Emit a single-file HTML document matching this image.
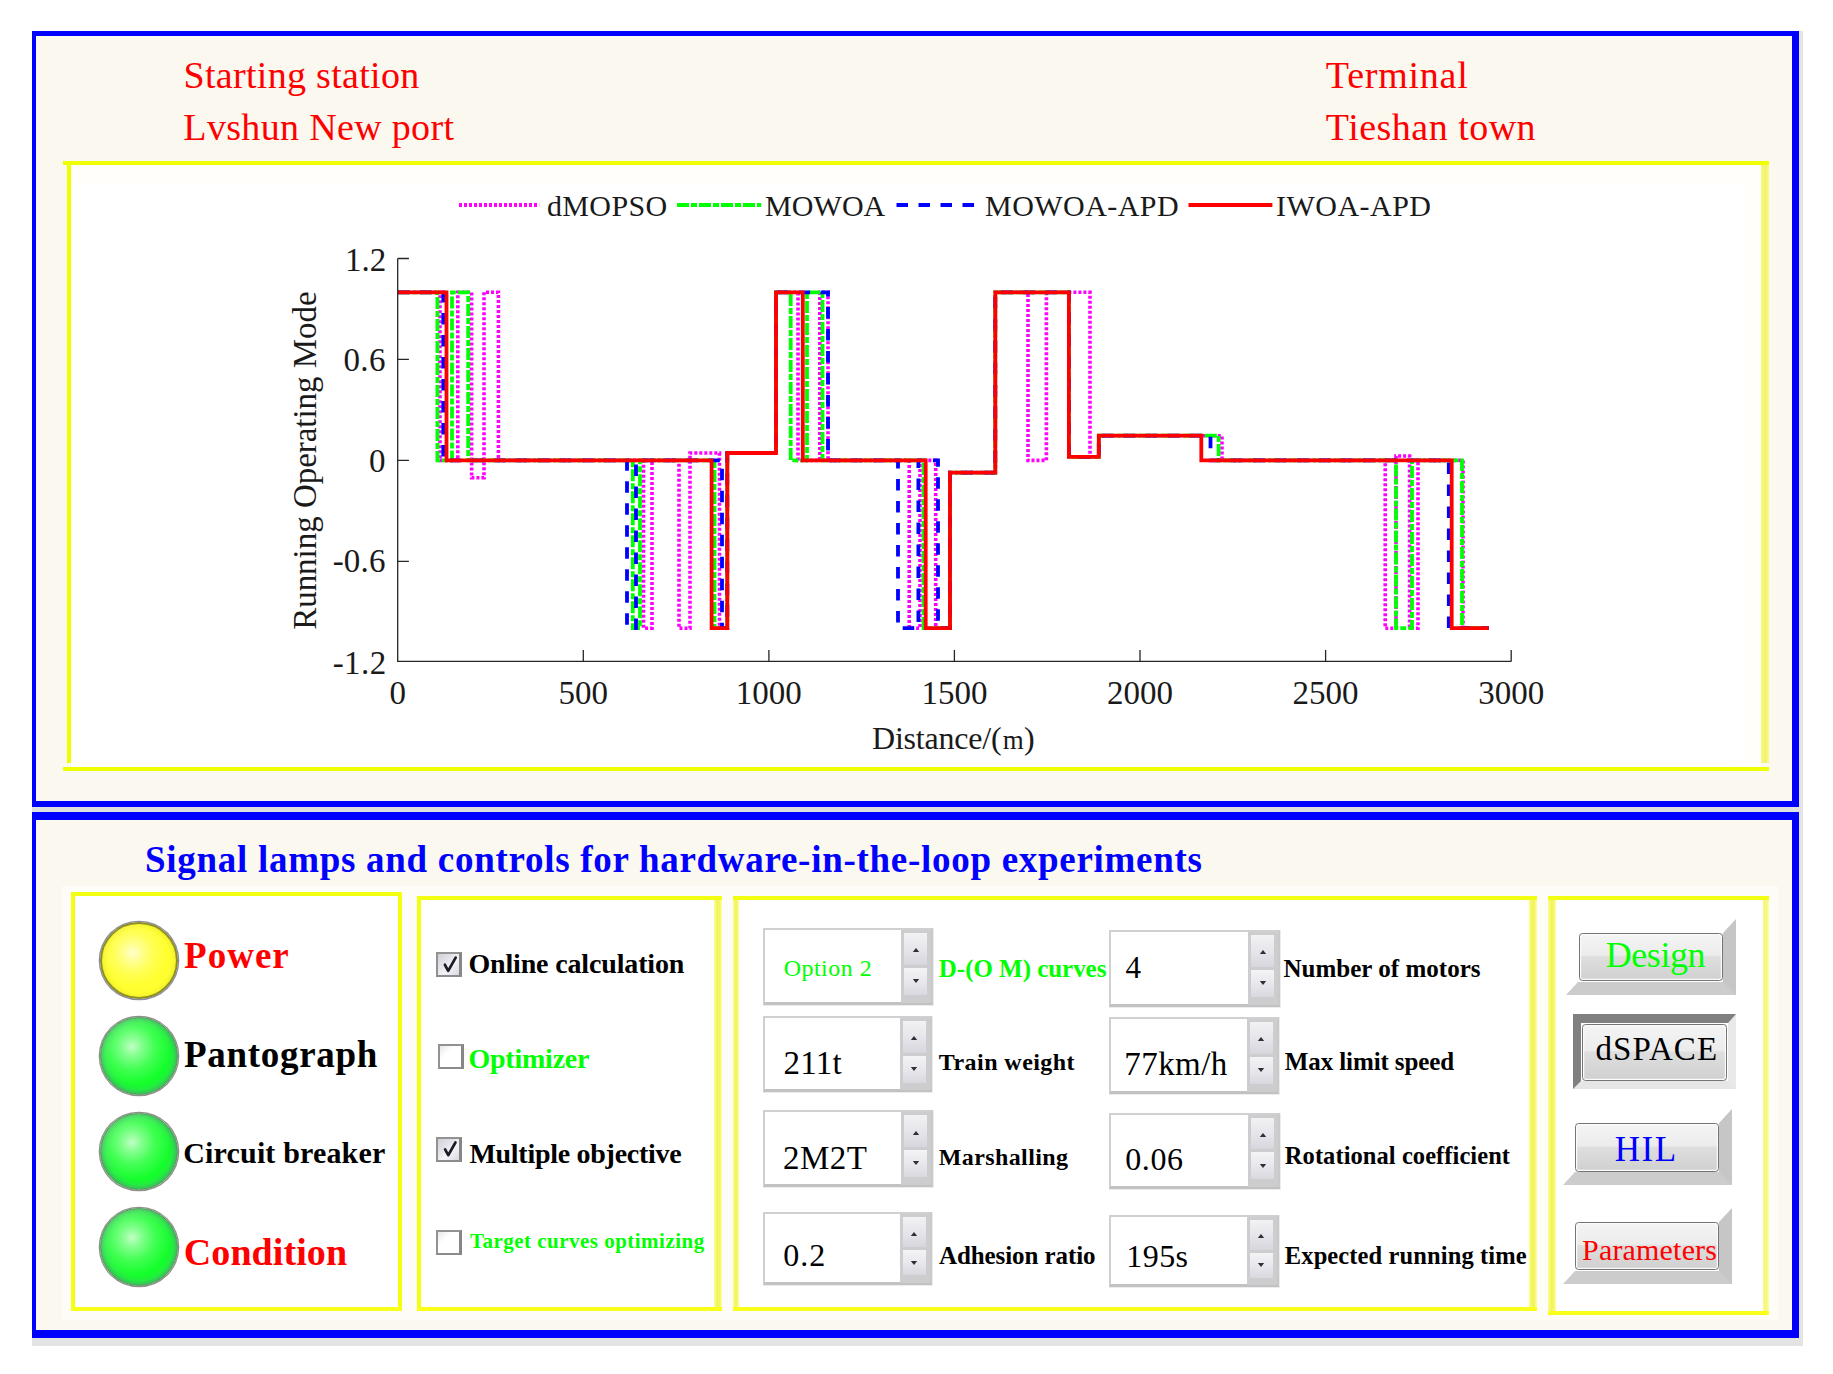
<!DOCTYPE html>
<html><head><meta charset="utf-8"><title>HIL panel</title>
<style>
html,body{margin:0;padding:0;background:#fff;}
body{width:1833px;height:1374px;position:relative;overflow:hidden;font-family:"Liberation Serif", serif;}
body>div,body>span,body>svg{position:absolute;display:block;}
.t{white-space:pre;}
</style></head><body>
<div style="left:1799px;top:31px;width:4px;height:1315px;background:#e4e4e4;"></div>
<div style="left:32px;top:1338px;width:1771px;height:8px;background:#e3e3e3;"></div>
<div style="left:32px;top:807px;width:1767px;height:5px;background:#dfe2df;"></div>
<div style="left:32px;top:31px;width:1767px;height:776px;background:#0000ff"></div>
<div style="left:36px;top:36px;width:1756px;height:765px;background:#fbf8f0;"></div>
<div style="left:32px;top:812px;width:1767px;height:526px;background:#0000ff"></div>
<div style="left:36px;top:820px;width:1756px;height:510px;background:#fbf8f0;"></div>
<span class="t" style="left:183.53px;top:56.17px;font-size:38px;line-height:38px;color:#ff0000;letter-spacing:0.307px;">Starting station</span>
<span class="t" style="left:183.36px;top:107.77px;font-size:38px;line-height:38px;color:#ff0000;letter-spacing:0.330px;">Lvshun New port</span>
<span class="t" style="left:1325.84px;top:56.17px;font-size:38px;line-height:38px;color:#ff0000;letter-spacing:0.759px;">Terminal</span>
<span class="t" style="left:1325.84px;top:107.77px;font-size:38px;line-height:38px;color:#ff0000;letter-spacing:0.481px;">Tieshan town</span>
<div style="left:71px;top:165px;width:1690px;height:602px;background:#fffefa;"></div>
<div style="left:71px;top:184px;width:1671px;height:579px;background:#ffffff;"></div>
<div style="left:63px;top:161px;width:1706px;height:4px;background:#f0ff00;"></div>
<div style="left:63px;top:767px;width:1706px;height:4px;background:#f0ff00;"></div>
<div style="left:67px;top:165px;width:4px;height:598px;background:#f0ff00;"></div>
<div style="left:1761px;top:165px;width:8px;height:598px;background:linear-gradient(90deg,#fafa80,#f0f070 50%,#fbfb88);"></div>
<svg style="left:71px;top:165px" width="1690" height="602" viewBox="71 165 1690 602" font-family="'Liberation Serif', serif">
<path d="M398.0 292.3 L440.0 292.3 L440.0 460.4 L457.8 460.4 L457.8 292.3 L471.6 292.3 L471.6 477.7 L484.0 477.7 L484.0 292.3 L498.4 292.3 L498.4 460.4 L643.5 460.4 L643.5 628.2 L652.0 628.2 L652.0 460.4 L679.0 460.4 L679.0 628.2 L690.0 628.2 L690.0 453.0 L719.5 453.0 L719.5 628.2 L727.3 628.2 L727.3 453.0 L776.0 453.0 L776.0 292.3 L798.0 292.3 L798.0 460.4 L819.8 460.4 L819.8 292.3 L828.0 292.3 L828.0 460.4 L909.2 460.4 L909.2 628.2 L920.0 628.2 L920.0 460.4 L935.7 460.4 L935.7 628.2 L950.0 628.2 L950.0 472.6 L995.3 472.6 L995.3 292.3 L1028.0 292.3 L1028.0 460.4 L1046.4 460.4 L1046.4 292.3 L1090.0 292.3 L1090.0 456.8 L1098.8 456.8 L1098.8 435.7 L1222.0 435.7 L1222.0 460.4 L1385.2 460.4 L1385.2 628.2 L1396.0 628.2 L1396.0 456.0 L1409.6 456.0 L1409.6 628.2 L1418.0 628.2 L1418.0 460.4 L1463.0 460.4 L1463.0 628.2 L1488.8 628.2" fill="none" stroke="#ff00ff" stroke-width="3.6" stroke-dasharray="3 2" stroke-linejoin="miter" />
<path d="M398.0 292.3 L437.4 292.3 L437.4 460.4 L452.0 460.4 L452.0 292.3 L468.2 292.3 L468.2 460.4 L632.8 460.4 L632.8 628.2 L640.0 628.2 L640.0 460.4 L714.5 460.4 L714.5 628.2 L727.3 628.2 L727.3 453.0 L776.0 453.0 L776.0 292.3 L790.7 292.3 L790.7 460.4 L807.0 460.4 L807.0 292.3 L822.5 292.3 L822.5 460.4 L923.6 460.4 L923.6 628.2 L950.0 628.2 L950.0 472.6 L995.3 472.6 L995.3 292.3 L1068.9 292.3 L1068.9 456.8 L1098.8 456.8 L1098.8 435.7 L1218.6 435.7 L1218.6 460.4 L1396.0 460.4 L1396.0 628.2 L1412.0 628.2 L1412.0 460.4 L1462.0 460.4 L1462.0 628.2 L1488.8 628.2" fill="none" stroke="#00ff00" stroke-width="3.8" stroke-dasharray="12 2 6 2" stroke-linejoin="miter" />
<path d="M398.0 292.3 L443.3 292.3 L443.3 460.4 L627.0 460.4 L627.0 628.2 L636.0 628.2 L636.0 460.4 L722.0 460.4 L722.0 628.2 L727.3 628.2 L727.3 453.0 L776.0 453.0 L776.0 292.3 L828.0 292.3 L828.0 460.4 L898.0 460.4 L898.0 628.2 L918.4 628.2 L918.4 460.4 L938.0 460.4 L938.0 628.2 L950.0 628.2 L950.0 472.6 L995.3 472.6 L995.3 292.3 L1068.9 292.3 L1068.9 456.8 L1098.8 456.8 L1098.8 435.7 L1210.5 435.7 L1210.5 460.4 L1448.8 460.4 L1448.8 628.2 L1488.8 628.2" fill="none" stroke="#0000ff" stroke-width="3.8" stroke-dasharray="11.5 10.5" stroke-linejoin="miter" />
<path d="M398.0 292.3 L446.5 292.3 L446.5 460.4 L711.6 460.4 L711.6 628.2 L727.3 628.2 L727.3 453.0 L776.0 453.0 L776.0 292.3 L802.8 292.3 L802.8 460.4 L925.7 460.4 L925.7 628.2 L950.0 628.2 L950.0 472.6 L995.3 472.6 L995.3 292.3 L1068.9 292.3 L1068.9 456.8 L1098.8 456.8 L1098.8 435.7 L1201.3 435.7 L1201.3 460.4 L1451.7 460.4 L1451.7 628.2 L1488.8 628.2" fill="none" stroke="#ff0000" stroke-width="3.8" stroke-linejoin="miter" />
<path d="M397.7 258.4 V661.4 H1511.2" fill="none" stroke="#262626" stroke-width="1.3"/>
<path d="M397.7 258.5 h11.2 M397.7 359.4 h11.2 M397.7 460.4 h11.2 M397.7 561.4 h11.2 M583.3 661.4 v-11.5 M768.9 661.4 v-11.5 M954.4 661.4 v-11.5 M1140.0 661.4 v-11.5 M1325.6 661.4 v-11.5 M1511.2 661.4 v-11.5 " fill="none" stroke="#262626" stroke-width="1.3"/>
<text x="345.00" y="270.60" font-size="33" fill="#1a1a1a" letter-spacing="-0.015">1.2</text>
<text x="343.38" y="370.60" font-size="33" fill="#1a1a1a" letter-spacing="0.380">0.6</text>
<text x="369.08" y="471.80" font-size="33" fill="#1a1a1a">0</text>
<text x="332.65" y="572.40" font-size="33" fill="#1a1a1a" letter-spacing="0.180">-0.6</text>
<text x="332.65" y="673.60" font-size="33" fill="#1a1a1a" letter-spacing="0.455">-1.2</text>
<text x="389.45" y="703.80" font-size="33" fill="#1a1a1a">0</text>
<text x="558.53" y="703.80" font-size="33" fill="#1a1a1a">500</text>
<text x="735.86" y="703.80" font-size="33" fill="#1a1a1a">1000</text>
<text x="921.44" y="703.80" font-size="33" fill="#1a1a1a">1500</text>
<text x="1107.02" y="703.80" font-size="33" fill="#1a1a1a">2000</text>
<text x="1292.60" y="703.80" font-size="33" fill="#1a1a1a">2500</text>
<text x="1478.18" y="703.80" font-size="33" fill="#1a1a1a">3000</text>
<text x="872.04" y="748.5" font-size="32" fill="#1a1a1a" letter-spacing="-0.205">Distance/(<tspan font-size="27" dx="1.2">m</tspan><tspan dx="0.6">)</tspan></text>
<text transform="translate(316.1 629.79) rotate(-90)" font-size="33" fill="#1a1a1a" letter-spacing="-0.033">Running Operating Mode</text>
<path d="M459 205 H539.2" stroke="#ff00ff" stroke-width="3.8" stroke-dasharray="3 2" fill="none"/>
<path d="M677 205 H761.2" stroke="#00ff00" stroke-width="3.8" stroke-dasharray="12 2 6 2" fill="none"/>
<path d="M896.5 205 H975" stroke="#0000ff" stroke-width="3.8" stroke-dasharray="11.5 10.5" fill="none"/>
<path d="M1188.5 205 H1272.4" stroke="#ff0000" stroke-width="3.8" fill="none"/>
<text x="546.95" y="215.60" font-size="30" fill="#1a1a1a" letter-spacing="0.380">dMOPSO</text>
<text x="765.10" y="215.60" font-size="30" fill="#1a1a1a" letter-spacing="0.050">MOWOA</text>
<text x="985.10" y="215.60" font-size="30" fill="#1a1a1a" letter-spacing="0.444">MOWOA-APD</text>
<text x="1275.95" y="215.60" font-size="30" fill="#1a1a1a" letter-spacing="0.493">IWOA-APD</text>
</svg>
<span class="t" style="left:144.97px;top:841.01px;font-size:37px;line-height:37px;color:#0000ff;font-weight:bold;letter-spacing:0.714px;">Signal lamps and controls for hardware-in-the-loop experiments</span>
<div style="left:62px;top:886px;width:1716px;height:434px;background:#fdfcf6;"></div>
<div style="left:70.7px;top:892.3px;width:331.3px;height:419.0px;background:#ffffff;"></div>
<div style="left:70.7px;top:892.3px;width:4px;height:419.0px;background:#f4ff10;"></div>
<div style="left:398px;top:892.3px;width:4px;height:419.0px;background:#f4ff10;"></div>
<div style="left:70.7px;top:892.3px;width:331.3px;height:4px;background:#f2ff10;"></div>
<div style="left:70.7px;top:1307.3px;width:331.3px;height:4px;background:#f8ff18;"></div>
<div style="left:417px;top:896px;width:305px;height:415.29999999999995px;background:#ffffff;"></div>
<div style="left:417px;top:896px;width:4px;height:415.29999999999995px;background:#f4ff10;"></div>
<div style="left:714px;top:896px;width:8px;height:415.29999999999995px;background:linear-gradient(90deg,#fdfd90 0%,#f1f458 45%,#f4f56c 70%,#ffffa0 100%);"></div>
<div style="left:417px;top:896px;width:305px;height:4px;background:#f2ff10;"></div>
<div style="left:417px;top:1307.3px;width:305px;height:4px;background:#f8ff18;"></div>
<div style="left:733px;top:896px;width:804px;height:415.29999999999995px;background:#ffffff;"></div>
<div style="left:733px;top:896px;width:6px;height:415.29999999999995px;background:linear-gradient(90deg,#fdfd90 0%,#f1f458 45%,#f4f56c 70%,#ffffa0 100%);"></div>
<div style="left:1529px;top:896px;width:8px;height:415.29999999999995px;background:linear-gradient(90deg,#fdfd90 0%,#f1f458 45%,#f4f56c 70%,#ffffa0 100%);"></div>
<div style="left:733px;top:896px;width:804px;height:4px;background:#f2ff10;"></div>
<div style="left:733px;top:1307.3px;width:804px;height:4px;background:#f8ff18;"></div>
<div style="left:1548px;top:896px;width:220.5px;height:419px;background:#ffffff;"></div>
<div style="left:1548px;top:896px;width:7.5px;height:419px;background:linear-gradient(90deg,#fdfd90 0%,#f1f458 45%,#f4f56c 70%,#ffffa0 100%);"></div>
<div style="left:1762.5px;top:896px;width:6px;height:419px;background:linear-gradient(90deg,#fafa7a,#f6f688 60%,#ffffa0);"></div>
<div style="left:1548px;top:896px;width:220.5px;height:4px;background:#f2ff10;"></div>
<div style="left:1548px;top:1311px;width:220.5px;height:4px;background:#f8ff18;"></div>
<div style="left:100.1px;top:921.7px;width:77.8px;height:77.8px;border-radius:50%;box-sizing:border-box;border:2.2px solid #8e8e26;background:radial-gradient(circle at 42% 40%, rgba(255,255,235,0.85) 0%, rgba(255,255,220,0.55) 14%, rgba(255,255,200,0.22) 32%, rgba(255,255,200,0) 52%),radial-gradient(circle closest-side at 50% 50%, #ffff34 0%, #ffff30 80%, #f6f62a 92%, #e0e02c 100%);background-origin:border-box;box-shadow:0 0 0 1.3px #8c8ca6;"></div>
<div style="left:100.1px;top:1017.3000000000001px;width:77.8px;height:77.8px;border-radius:50%;box-sizing:border-box;border:1.6px solid #52985a;background:radial-gradient(circle at 41% 38%, rgba(225,255,225,0.85) 0%, rgba(210,255,210,0.6) 14%, rgba(190,255,190,0.28) 34%, rgba(180,255,180,0) 58%),radial-gradient(circle closest-side at 50% 50%, #14ff2c 0%, #12ff2a 72%, #22ee3e 86%, #38c458 96%, #3fae58 100%);background-origin:border-box;box-shadow:0 0 0 1.3px #8c9086;"></div>
<div style="left:100.1px;top:1112.6px;width:77.8px;height:77.8px;border-radius:50%;box-sizing:border-box;border:1.6px solid #52985a;background:radial-gradient(circle at 41% 38%, rgba(225,255,225,0.85) 0%, rgba(210,255,210,0.6) 14%, rgba(190,255,190,0.28) 34%, rgba(180,255,180,0) 58%),radial-gradient(circle closest-side at 50% 50%, #14ff2c 0%, #12ff2a 72%, #22ee3e 86%, #38c458 96%, #3fae58 100%);background-origin:border-box;box-shadow:0 0 0 1.3px #8c9086;"></div>
<div style="left:100.1px;top:1207.8999999999999px;width:77.8px;height:77.8px;border-radius:50%;box-sizing:border-box;border:1.6px solid #52985a;background:radial-gradient(circle at 41% 38%, rgba(225,255,225,0.85) 0%, rgba(210,255,210,0.6) 14%, rgba(190,255,190,0.28) 34%, rgba(180,255,180,0) 58%),radial-gradient(circle closest-side at 50% 50%, #14ff2c 0%, #12ff2a 72%, #22ee3e 86%, #38c458 96%, #3fae58 100%);background-origin:border-box;box-shadow:0 0 0 1.3px #8c9086;"></div>
<span class="t" style="left:184.04px;top:936.71px;font-size:37px;line-height:37px;color:#ff0000;font-weight:bold;letter-spacing:1.014px;">Power</span>
<span class="t" style="left:184.04px;top:1036.01px;font-size:37px;line-height:37px;color:#000;font-weight:bold;letter-spacing:0.697px;">Pantograph</span>
<span class="t" style="left:183.30px;top:1137.58px;font-size:30px;line-height:30px;color:#000;font-weight:bold;letter-spacing:0.161px;">Circuit breaker</span>
<span class="t" style="left:183.80px;top:1232.67px;font-size:38px;line-height:38px;color:#ff0000;font-weight:bold;letter-spacing:0.079px;">Condition</span>
<div style="left:436px;top:952px;width:26.4px;height:25.4px;box-sizing:border-box;border:2px solid #929292;border-right:3px solid #868686;border-bottom:2.5px solid #8c8c8c;background:linear-gradient(135deg,#d0d0d8 0%,#e8e8ee 45%,#f4f4f8 60%,#d8d8e0 100%);"></div>
<svg style="left:436px;top:952px" width="26.4" height="25.4" viewBox="0 0 26 25"><path d="M8.8 12.6 L12 18.6 L19.4 5.6" fill="none" stroke="#1c1c24" stroke-width="2.7" stroke-linecap="round" stroke-linejoin="round"/></svg>
<div style="left:438.2px;top:1044.4px;width:26.3px;height:24.5px;box-sizing:border-box;border:2px solid #929292;border-right:3px solid #868686;border-bottom:2.5px solid #8c8c8c;background:linear-gradient(135deg,#e8e8e8 0%,#ffffff 35%,#ffffff 100%);"></div>
<div style="left:436px;top:1137px;width:26.4px;height:24.5px;box-sizing:border-box;border:2px solid #929292;border-right:3px solid #868686;border-bottom:2.5px solid #8c8c8c;background:linear-gradient(135deg,#d0d0d8 0%,#e8e8ee 45%,#f4f4f8 60%,#d8d8e0 100%);"></div>
<svg style="left:436px;top:1137px" width="26.4" height="24.5" viewBox="0 0 26 25"><path d="M8.8 12.6 L12 18.6 L19.4 5.6" fill="none" stroke="#1c1c24" stroke-width="2.7" stroke-linecap="round" stroke-linejoin="round"/></svg>
<div style="left:436px;top:1230px;width:26.4px;height:25px;box-sizing:border-box;border:2px solid #929292;border-right:3px solid #868686;border-bottom:2.5px solid #8c8c8c;background:linear-gradient(135deg,#e8e8e8 0%,#ffffff 35%,#ffffff 100%);"></div>
<span class="t" style="left:468.40px;top:950.25px;font-size:28px;line-height:28px;color:#000;font-weight:bold;letter-spacing:-0.154px;">Online calculation</span>
<span class="t" style="left:468.40px;top:1044.55px;font-size:28px;line-height:28px;color:#00ff00;font-weight:bold;letter-spacing:-0.220px;">Optimizer</span>
<span class="t" style="left:469.38px;top:1139.55px;font-size:28px;line-height:28px;color:#000;font-weight:bold;letter-spacing:-0.275px;">Multiple objective</span>
<span class="t" style="left:469.88px;top:1230.81px;font-size:21px;line-height:21px;color:#00ff00;font-weight:bold;letter-spacing:0.482px;">Target curves optimizing</span>
<div style="left:763px;top:927.5px;width:170px;height:77.20000000000005px;box-sizing:border-box;border:2.6px solid #d0d0d0;border-right-color:#c9c9c9;border-bottom:3.2px solid #c2c2c2;background:#fff;box-shadow:0.5px 0.5px 0 0.5px #ececec;"></div>
<div style="left:901px;top:929.5px;width:30px;height:73.20000000000005px;background:#cdcdcf;"></div>
<div style="left:904px;top:932.5px;width:23px;height:32.1px;background:linear-gradient(180deg,#f2f2f4 0%,#e4e4ea 55%,#d6d6dc 100%);"></div>
<div style="left:904px;top:967.6px;width:23px;height:27.6px;background:linear-gradient(180deg,#f4f4f6 0%,#e6e6ec 55%,#d8d8de 100%);"></div>
<svg style="left:910.5px;top:946.2px" width="10" height="8" viewBox="0 0 10 8"><path d="M1.8 5.9 L5 2 L8.2 5.9 Z" fill="#30303a"/></svg>
<svg style="left:910.5px;top:977.1px" width="10" height="8" viewBox="0 0 10 8"><path d="M1.8 2.1 L5 6 L8.2 2.1 Z" fill="#30303a"/></svg>
<div style="left:763px;top:1016px;width:168.5px;height:76.20000000000005px;box-sizing:border-box;border:2.6px solid #d0d0d0;border-right-color:#c9c9c9;border-bottom:3.2px solid #c2c2c2;background:#fff;box-shadow:0.5px 0.5px 0 0.5px #ececec;"></div>
<div style="left:899.5px;top:1018px;width:30px;height:72.20000000000005px;background:#cdcdcf;"></div>
<div style="left:902.5px;top:1021px;width:23px;height:31.6px;background:linear-gradient(180deg,#f2f2f4 0%,#e4e4ea 55%,#d6d6dc 100%);"></div>
<div style="left:902.5px;top:1055.6px;width:23px;height:27.1px;background:linear-gradient(180deg,#f4f4f6 0%,#e6e6ec 55%,#d8d8de 100%);"></div>
<svg style="left:909.0px;top:1034.4px" width="10" height="8" viewBox="0 0 10 8"><path d="M1.8 5.9 L5 2 L8.2 5.9 Z" fill="#30303a"/></svg>
<svg style="left:909.0px;top:1064.9px" width="10" height="8" viewBox="0 0 10 8"><path d="M1.8 2.1 L5 6 L8.2 2.1 Z" fill="#30303a"/></svg>
<div style="left:763px;top:1110px;width:170px;height:76.70000000000005px;box-sizing:border-box;border:2.6px solid #d0d0d0;border-right-color:#c9c9c9;border-bottom:3.2px solid #c2c2c2;background:#fff;box-shadow:0.5px 0.5px 0 0.5px #ececec;"></div>
<div style="left:901px;top:1112px;width:30px;height:72.70000000000005px;background:#cdcdcf;"></div>
<div style="left:904px;top:1115px;width:23px;height:31.9px;background:linear-gradient(180deg,#f2f2f4 0%,#e4e4ea 55%,#d6d6dc 100%);"></div>
<div style="left:904px;top:1149.8px;width:23px;height:27.4px;background:linear-gradient(180deg,#f4f4f6 0%,#e6e6ec 55%,#d8d8de 100%);"></div>
<svg style="left:910.5px;top:1128.5px" width="10" height="8" viewBox="0 0 10 8"><path d="M1.8 5.9 L5 2 L8.2 5.9 Z" fill="#30303a"/></svg>
<svg style="left:910.5px;top:1159.2px" width="10" height="8" viewBox="0 0 10 8"><path d="M1.8 2.1 L5 6 L8.2 2.1 Z" fill="#30303a"/></svg>
<div style="left:763px;top:1212.4px;width:168.5px;height:72.59999999999991px;box-sizing:border-box;border:2.6px solid #d0d0d0;border-right-color:#c9c9c9;border-bottom:3.2px solid #c2c2c2;background:#fff;box-shadow:0.5px 0.5px 0 0.5px #ececec;"></div>
<div style="left:899.5px;top:1214.4px;width:30px;height:68.59999999999991px;background:#cdcdcf;"></div>
<div style="left:902.5px;top:1217.4px;width:23px;height:29.8px;background:linear-gradient(180deg,#f2f2f4 0%,#e4e4ea 55%,#d6d6dc 100%);"></div>
<div style="left:902.5px;top:1250.2px;width:23px;height:25.3px;background:linear-gradient(180deg,#f4f4f6 0%,#e6e6ec 55%,#d8d8de 100%);"></div>
<svg style="left:909.0px;top:1229.8px" width="10" height="8" viewBox="0 0 10 8"><path d="M1.8 5.9 L5 2 L8.2 5.9 Z" fill="#30303a"/></svg>
<svg style="left:909.0px;top:1258.7px" width="10" height="8" viewBox="0 0 10 8"><path d="M1.8 2.1 L5 6 L8.2 2.1 Z" fill="#30303a"/></svg>
<div style="left:1109px;top:929.7px;width:171px;height:77.0px;box-sizing:border-box;border:2.6px solid #d0d0d0;border-right-color:#c9c9c9;border-bottom:3.2px solid #c2c2c2;background:#fff;box-shadow:0.5px 0.5px 0 0.5px #ececec;"></div>
<div style="left:1248px;top:931.7px;width:30px;height:73.0px;background:#cdcdcf;"></div>
<div style="left:1251px;top:934.7px;width:23px;height:32.0px;background:linear-gradient(180deg,#f2f2f4 0%,#e4e4ea 55%,#d6d6dc 100%);"></div>
<div style="left:1251px;top:969.7px;width:23px;height:27.5px;background:linear-gradient(180deg,#f4f4f6 0%,#e6e6ec 55%,#d8d8de 100%);"></div>
<svg style="left:1257.5px;top:948.3px" width="10" height="8" viewBox="0 0 10 8"><path d="M1.8 5.9 L5 2 L8.2 5.9 Z" fill="#30303a"/></svg>
<svg style="left:1257.5px;top:979.1px" width="10" height="8" viewBox="0 0 10 8"><path d="M1.8 2.1 L5 6 L8.2 2.1 Z" fill="#30303a"/></svg>
<div style="left:1109px;top:1016.7px;width:169.5px;height:77.09999999999991px;box-sizing:border-box;border:2.6px solid #d0d0d0;border-right-color:#c9c9c9;border-bottom:3.2px solid #c2c2c2;background:#fff;box-shadow:0.5px 0.5px 0 0.5px #ececec;"></div>
<div style="left:1246.5px;top:1018.7px;width:30px;height:73.09999999999991px;background:#cdcdcf;"></div>
<div style="left:1249.5px;top:1021.7px;width:23px;height:32.0px;background:linear-gradient(180deg,#f2f2f4 0%,#e4e4ea 55%,#d6d6dc 100%);"></div>
<div style="left:1249.5px;top:1056.8px;width:23px;height:27.5px;background:linear-gradient(180deg,#f4f4f6 0%,#e6e6ec 55%,#d8d8de 100%);"></div>
<svg style="left:1256.0px;top:1035.3px" width="10" height="8" viewBox="0 0 10 8"><path d="M1.8 5.9 L5 2 L8.2 5.9 Z" fill="#30303a"/></svg>
<svg style="left:1256.0px;top:1066.2px" width="10" height="8" viewBox="0 0 10 8"><path d="M1.8 2.1 L5 6 L8.2 2.1 Z" fill="#30303a"/></svg>
<div style="left:1109px;top:1112.6px;width:171px;height:76.40000000000009px;box-sizing:border-box;border:2.6px solid #d0d0d0;border-right-color:#c9c9c9;border-bottom:3.2px solid #c2c2c2;background:#fff;box-shadow:0.5px 0.5px 0 0.5px #ececec;"></div>
<div style="left:1248px;top:1114.6px;width:30px;height:72.40000000000009px;background:#cdcdcf;"></div>
<div style="left:1251px;top:1117.6px;width:23px;height:31.7px;background:linear-gradient(180deg,#f2f2f4 0%,#e4e4ea 55%,#d6d6dc 100%);"></div>
<div style="left:1251px;top:1152.3px;width:23px;height:27.2px;background:linear-gradient(180deg,#f4f4f6 0%,#e6e6ec 55%,#d8d8de 100%);"></div>
<svg style="left:1257.5px;top:1131.0px" width="10" height="8" viewBox="0 0 10 8"><path d="M1.8 5.9 L5 2 L8.2 5.9 Z" fill="#30303a"/></svg>
<svg style="left:1257.5px;top:1161.6px" width="10" height="8" viewBox="0 0 10 8"><path d="M1.8 2.1 L5 6 L8.2 2.1 Z" fill="#30303a"/></svg>
<div style="left:1109px;top:1215px;width:169.5px;height:72px;box-sizing:border-box;border:2.6px solid #d0d0d0;border-right-color:#c9c9c9;border-bottom:3.2px solid #c2c2c2;background:#fff;box-shadow:0.5px 0.5px 0 0.5px #ececec;"></div>
<div style="left:1246.5px;top:1217px;width:30px;height:68px;background:#cdcdcf;"></div>
<div style="left:1249.5px;top:1220px;width:23px;height:29.5px;background:linear-gradient(180deg,#f2f2f4 0%,#e4e4ea 55%,#d6d6dc 100%);"></div>
<div style="left:1249.5px;top:1252.5px;width:23px;height:25.0px;background:linear-gradient(180deg,#f4f4f6 0%,#e6e6ec 55%,#d8d8de 100%);"></div>
<svg style="left:1256.0px;top:1232.2px" width="10" height="8" viewBox="0 0 10 8"><path d="M1.8 5.9 L5 2 L8.2 5.9 Z" fill="#30303a"/></svg>
<svg style="left:1256.0px;top:1260.9px" width="10" height="8" viewBox="0 0 10 8"><path d="M1.8 2.1 L5 6 L8.2 2.1 Z" fill="#30303a"/></svg>
<span class="t" style="left:783.64px;top:956.20px;font-size:24px;line-height:24px;color:#00ff00;letter-spacing:0.494px;">Option 2</span>
<span class="t" style="left:783.51px;top:1047.36px;font-size:33px;line-height:33px;color:#000;letter-spacing:0.210px;">211t</span>
<span class="t" style="left:783.12px;top:1142.36px;font-size:33px;line-height:33px;color:#000;letter-spacing:0.460px;">2M2T</span>
<span class="t" style="left:783.32px;top:1239.20px;font-size:32px;line-height:32px;color:#000;letter-spacing:0.970px;">0.2</span>
<span class="t" style="left:1125.38px;top:952.04px;font-size:31px;line-height:31px;color:#000;">4</span>
<span class="t" style="left:1124.36px;top:1048.06px;font-size:33px;line-height:33px;color:#000;letter-spacing:0.405px;">77km/h</span>
<span class="t" style="left:1125.22px;top:1142.70px;font-size:32px;line-height:32px;color:#000;letter-spacing:0.580px;">0.06</span>
<span class="t" style="left:1126.28px;top:1240.20px;font-size:32px;line-height:32px;color:#000;letter-spacing:0.453px;">195s</span>
<span class="t" style="left:938.83px;top:955.76px;font-size:25px;line-height:25px;color:#00ff00;font-weight:bold;letter-spacing:-0.031px;">D-(O M) curves</span>
<span class="t" style="left:938.84px;top:1049.90px;font-size:24px;line-height:24px;color:#000;font-weight:bold;letter-spacing:0.442px;">Train weight</span>
<span class="t" style="left:938.84px;top:1144.70px;font-size:24px;line-height:24px;color:#000;font-weight:bold;letter-spacing:0.380px;">Marshalling</span>
<span class="t" style="left:938.95px;top:1243.06px;font-size:25px;line-height:25px;color:#000;font-weight:bold;letter-spacing:-0.075px;">Adhesion ratio</span>
<span class="t" style="left:1283.40px;top:956.06px;font-size:25px;line-height:25px;color:#000;font-weight:bold;letter-spacing:0.032px;">Number of motors</span>
<span class="t" style="left:1284.83px;top:1049.06px;font-size:25px;line-height:25px;color:#000;font-weight:bold;letter-spacing:-0.109px;">Max limit speed</span>
<span class="t" style="left:1284.83px;top:1144.28px;font-size:24.5px;line-height:24.5px;color:#000;font-weight:bold;letter-spacing:0.065px;">Rotational coefficient</span>
<span class="t" style="left:1284.83px;top:1243.88px;font-size:24.5px;line-height:24.5px;color:#000;font-weight:bold;letter-spacing:0.108px;">Expected running time</span>
<div style="left:1566px;top:918.5px;width:170px;height:76.29999999999995px;box-sizing:border-box;border-style:solid;border-width:14.2px 13.5px 13.5px 12.5px;border-color:#ffffff #c6c6c6 #cccccc #ffffff;background:#fff;"></div>
<div style="left:1578.5px;top:932.7px;width:144.0px;height:48.59999999999991px;box-sizing:border-box;border:1.7px solid #747474;border-radius:3.5px;background:linear-gradient(180deg,#f4f4f4 0%,#ececec 46%,#dedede 50%,#d0d0d0 100%);box-shadow:inset 0 0 0 1.2px #fbfbfb;"></div>
<div style="left:1573px;top:1014.2px;width:162.5999999999999px;height:75.29999999999995px;box-sizing:border-box;border-style:solid;border-width:9.3px 8.4px 8.2px 8.7px;border-color:#808080 #e9e9e9 #e6e6e6 #808080;background:#fff;"></div>
<div style="left:1581.7px;top:1023.5px;width:145.5px;height:57.799999999999955px;box-sizing:border-box;border:1.7px solid #747474;border-radius:3.5px;background:linear-gradient(180deg,#f4f4f4 0%,#ececec 46%,#dedede 50%,#d0d0d0 100%);box-shadow:inset 0 0 0 1.2px #fbfbfb;"></div>
<div style="left:1562.6px;top:1109px;width:169.9000000000001px;height:76.40000000000009px;box-sizing:border-box;border-style:solid;border-width:14.0px 13.5px 13.7px 12.4px;border-color:#ffffff #c6c6c6 #cccccc #ffffff;background:#fff;"></div>
<div style="left:1575px;top:1123px;width:144px;height:48.700000000000045px;box-sizing:border-box;border:1.7px solid #747474;border-radius:3.5px;background:linear-gradient(180deg,#f4f4f4 0%,#ececec 46%,#dedede 50%,#d0d0d0 100%);box-shadow:inset 0 0 0 1.2px #fbfbfb;"></div>
<div style="left:1562.6px;top:1208px;width:169.9000000000001px;height:76px;box-sizing:border-box;border-style:solid;border-width:14.0px 13.5px 13.6px 12.4px;border-color:#ffffff #c6c6c6 #cccccc #ffffff;background:#fff;"></div>
<div style="left:1575px;top:1222px;width:144px;height:48.40000000000009px;box-sizing:border-box;border:1.7px solid #747474;border-radius:3.5px;background:linear-gradient(180deg,#f4f4f4 0%,#ececec 46%,#dedede 50%,#d0d0d0 100%);box-shadow:inset 0 0 0 1.2px #fbfbfb;"></div>
<span class="t" style="left:1605.82px;top:936.85px;font-size:36px;line-height:36px;color:#00ff00;letter-spacing:-0.468px;">Design</span>
<span class="t" style="left:1595.55px;top:1032.96px;font-size:33px;line-height:33px;color:#000;letter-spacing:1.069px;">dSPACE</span>
<span class="t" style="left:1614.85px;top:1131.69px;font-size:35px;line-height:35px;color:#0000ff;letter-spacing:1.487px;">HIL</span>
<span class="t" style="left:1582.10px;top:1234.78px;font-size:30px;line-height:30px;color:#ff0000;letter-spacing:0.178px;">Parameters</span>
</body></html>
